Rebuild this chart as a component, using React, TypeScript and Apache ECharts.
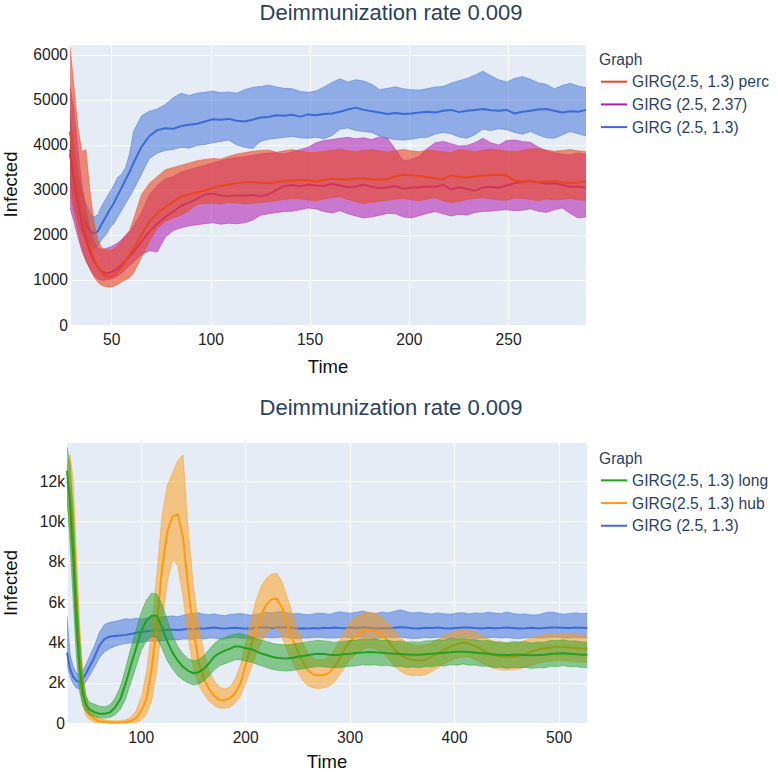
import React, { useEffect, useRef } from 'react';
import * as echarts from 'echarts';

const FONT = '"Liberation Sans", Arial, Helvetica, sans-serif';
const TITLE = 'Deimmunization rate 0.009';

// ---------- Top chart ----------
const TIME_TOP = [29,31,33,35,37,39,41,43,45,47,49,51,53,55,57,59,61,65,69,73,77,81,85,89,93,97,101,105,109,113,117,121,125,129,133,137,141,145,149,153,157,161,165,169,173,177,181,185,189,193,197,201,205,209,213,217,221,225,229,233,237,241,245,249,253,257,261,265,269,273,277,281,285,289];

const TOP_NAMES = ['GIRG(2.5, 1.3) perc', 'GIRG (2.5, 2.37)', 'GIRG (2.5, 1.3)'];

const PERC_MEAN = [4300,3500,2900,2450,2050,1750,1480,1280,1150,1080,1070,1110,1180,1290,1420,1560,1700,2000,2300,2480,2620,2740,2850,2900,2950,2990,3050,3090,3120,3150,3170,3180,3160,3150,3170,3200,3210,3220,3210,3190,3230,3250,3240,3230,3260,3250,3240,3230,3250,3300,3340,3330,3310,3290,3260,3240,3330,3290,3280,3300,3320,3330,3340,3320,3210,3190,3200,3180,3190,3200,3170,3150,3160,3200];
const PERC_UP = [6200,5300,4400,3850,3900,3000,2300,1900,1720,1660,1650,1690,1760,1860,1980,2100,2350,2900,3150,3300,3450,3500,3550,3600,3650,3680,3700,3690,3750,3800,3830,3860,3880,3890,3840,3870,3900,3860,3840,3830,3860,3880,3910,3870,3850,3880,3900,3870,3840,3880,3900,3870,3850,3890,3870,3850,3830,3900,3880,3850,3880,3910,3890,3860,3850,3880,3910,3920,3890,3860,3880,3900,3870,3850];
const PERC_LO = [2900,2500,2100,1700,1450,1250,1080,950,880,850,840,860,900,960,1000,1050,1150,1500,1850,2150,2300,2380,2440,2550,2680,2700,2700,2690,2720,2710,2690,2700,2720,2740,2760,2790,2810,2800,2780,2760,2800,2830,2850,2790,2740,2700,2720,2750,2770,2800,2810,2780,2760,2800,2830,2760,2720,2740,2790,2810,2830,2800,2780,2770,2820,2810,2790,2760,2800,2780,2790,2810,2780,2770];

const G237_MEAN = [3800,3200,2700,2250,1900,1620,1420,1280,1190,1150,1160,1200,1260,1340,1430,1530,1620,1850,2080,2250,2400,2520,2650,2720,2800,2900,2920,2880,2860,2880,2870,2890,2860,2900,3000,3090,3110,3080,3120,3100,3090,3140,3100,3060,3080,3120,3070,3040,3060,3090,3030,3050,3060,3080,3070,3120,3010,3060,3020,2980,3060,3070,3050,3100,3150,3180,3200,3170,3140,3150,3110,3070,3080,3050];
const G237_UP = [5300,4800,3900,3100,2600,2150,1850,1720,1680,1700,1730,1770,1820,1900,2000,2080,2200,2500,2900,3100,3250,3300,3400,3450,3500,3550,3600,3650,3700,3720,3740,3770,3800,3820,3830,3800,3850,3900,3950,4050,4100,4120,4150,4170,4140,4160,4120,4180,4150,3900,3650,3680,3750,3920,4050,4080,4030,3980,3990,4050,4150,4050,4000,4100,4110,4080,4060,3950,3870,3830,3800,3780,3820,3790];
const G237_LO = [2600,2300,1950,1650,1420,1250,1100,1020,990,1000,1010,1040,1090,1150,1230,1320,1400,1560,1650,1620,1950,2100,2160,2200,2230,2250,2270,2240,2260,2250,2270,2330,2440,2470,2500,2520,2530,2560,2600,2580,2520,2490,2540,2470,2420,2380,2400,2440,2480,2470,2400,2380,2430,2480,2520,2470,2420,2460,2440,2500,2520,2530,2550,2560,2540,2550,2580,2530,2500,2560,2600,2480,2380,2400];

const G13_MEAN = [3900,3300,2800,2450,2250,2100,2030,2080,2250,2400,2560,2700,2880,3050,3230,3400,3600,3960,4200,4330,4370,4360,4420,4450,4470,4520,4570,4560,4580,4540,4520,4560,4610,4620,4660,4650,4670,4630,4680,4660,4690,4700,4740,4790,4830,4780,4750,4720,4690,4710,4690,4700,4720,4740,4720,4760,4780,4730,4760,4780,4800,4770,4760,4780,4700,4740,4760,4790,4800,4760,4720,4750,4740,4780];
const G13_UP = [4700,4000,3400,2950,2700,2500,2400,2450,2650,2800,2950,3100,3280,3350,3500,3800,4300,4650,4750,4800,4900,5050,5150,5100,5150,5170,5200,5160,5180,5150,5230,5280,5300,5330,5290,5260,5250,5190,5170,5200,5290,5390,5470,5400,5450,5420,5350,5230,5260,5290,5250,5230,5220,5250,5290,5300,5370,5430,5480,5550,5640,5540,5450,5400,5480,5520,5460,5380,5350,5250,5320,5370,5310,5270];
const G13_LO = [3200,2700,2300,2050,1900,1800,1700,1750,1900,2000,2150,2250,2400,2550,2700,2850,3000,3350,3700,3820,3880,3900,3950,3930,3990,4010,4050,4080,4110,4000,3950,3920,4080,4130,4150,4170,4190,4160,4150,4170,4140,4210,4350,4380,4320,4300,4280,4200,4150,4120,4110,4130,4160,4170,4240,4280,4250,4180,4150,4230,4350,4320,4360,4340,4280,4240,4300,4220,4160,4150,4220,4300,4250,4200];

// ---------- Bottom chart ----------
const TIME_BOT = [29,32,35,38,41,44,47,50,55,60,65,70,75,80,85,90,95,100,105,110,115,120,125,130,135,140,145,150,155,160,165,170,175,180,185,190,195,200,205,210,215,220,225,230,235,240,245,250,255,260,265,270,275,280,285,290,295,300,306,312,318,324,330,336,342,348,354,360,366,372,378,384,390,396,402,408,414,420,426,432,438,444,450,456,462,468,474,480,486,492,498,504,510,516,522,527];

const BOT_NAMES = ['GIRG(2.5, 1.3) long', 'GIRG(2.5, 1.3) hub', 'GIRG (2.5, 1.3)'];

const LONG_MEAN = [12500,10800,8200,5000,2800,1500,950,700,560,470,470,540,780,1200,1950,2850,3700,4550,5100,5330,5330,4750,4050,3500,3100,2800,2600,2480,2530,2680,2980,3300,3480,3600,3700,3810,3800,3720,3680,3560,3460,3380,3300,3250,3220,3210,3250,3300,3330,3380,3420,3450,3430,3400,3380,3400,3430,3450,3480,3510,3530,3520,3500,3470,3450,3430,3410,3390,3400,3420,3450,3470,3490,3520,3540,3550,3530,3500,3470,3440,3410,3390,3380,3390,3400,3380,3370,3380,3400,3430,3460,3470,3450,3420,3400,3390];
const LONG_UP = [13700,12800,10500,7000,4300,2300,1400,1050,950,850,820,900,1250,1800,2700,3700,4600,5500,6100,6450,6400,5900,5100,4350,3800,3450,3200,3100,3150,3350,3650,3950,4150,4250,4350,4420,4450,4380,4300,4200,4120,4050,3980,3920,3900,3880,3920,3960,4000,4050,4080,4110,4080,4050,4010,4040,4070,4100,4130,4190,4150,4180,4100,4110,4050,4080,4020,4040,4010,4080,4090,4140,4120,4200,4180,4210,4150,4140,4080,4100,4030,4040,3990,4050,4030,4040,3980,4030,4020,4100,4090,4140,4070,4080,4030,4030];
const LONG_LO = [11200,8800,6000,3300,1600,900,600,450,330,270,260,290,420,680,1200,2000,2800,3600,4100,4300,4250,3700,3100,2700,2350,2150,2000,1900,1950,2100,2350,2650,2850,2950,3050,3150,3150,3080,3040,2940,2850,2760,2680,2630,2600,2590,2620,2660,2700,2750,2790,2820,2800,2770,2750,2770,2800,2830,2850,2900,2880,2900,2850,2870,2810,2830,2770,2790,2760,2820,2800,2860,2840,2900,2880,2940,2880,2890,2820,2830,2760,2780,2730,2770,2750,2770,2720,2760,2750,2820,2810,2860,2800,2810,2760,2760];

const HUB_MEAN = [12000,11500,9500,6200,3300,1700,850,450,220,100,60,45,40,45,60,110,250,600,1200,2700,4900,7700,9500,10250,10350,9200,6700,4600,3050,2200,1700,1350,1150,1140,1240,1500,1980,2900,3800,4700,5400,5900,6150,6180,5700,4850,4150,3550,3000,2600,2420,2380,2390,2500,2800,3200,3700,4050,4370,4560,4620,4580,4420,4080,3700,3400,3200,3130,3110,3150,3300,3470,3650,3800,3920,3990,3950,3820,3650,3500,3380,3300,3290,3300,3350,3450,3560,3660,3720,3760,3790,3790,3760,3720,3700,3690];
const HUB_UP = [12800,13300,12000,8500,5000,2600,1400,800,450,250,170,140,120,130,170,300,600,1300,2500,4600,7400,10300,11800,12400,13000,13300,9600,6800,4900,3500,2600,2100,1800,1700,1800,2200,2900,4000,5100,6100,6800,7200,7400,7420,7000,6200,5400,4650,3950,3450,3200,3130,3150,3300,3650,4100,4600,5000,5300,5450,5500,5450,5300,4950,4600,4250,4000,3880,3850,3880,4000,4150,4330,4480,4580,4640,4620,4500,4330,4180,4060,3980,3960,3970,4020,4120,4230,4330,4390,4430,4450,4450,4420,4390,4370,4350];
const HUB_LO = [11000,9500,7000,4200,2000,900,400,200,60,20,10,5,5,5,10,20,50,150,450,1100,2600,5000,7000,8100,7800,6300,4200,2700,1900,1450,1100,880,760,740,800,1000,1350,2000,2700,3400,4000,4500,4750,4700,4250,3550,3000,2500,2100,1850,1750,1720,1760,1850,2050,2400,2800,3150,3450,3650,3750,3700,3550,3230,2850,2580,2420,2370,2360,2400,2560,2750,2950,3100,3230,3300,3280,3150,2980,2830,2720,2650,2640,2650,2700,2780,2880,2980,3040,3080,3120,3120,3090,3050,3030,3020];

const B13_MEAN = [3500,2700,2300,2100,2050,2200,2450,2750,3250,3850,4180,4300,4330,4350,4380,4420,4480,4530,4560,4580,4600,4620,4640,4630,4620,4650,4680,4660,4700,4690,4720,4750,4710,4690,4720,4730,4710,4690,4700,4730,4750,4740,4720,4750,4740,4760,4720,4700,4710,4690,4720,4700,4730,4710,4750,4720,4710,4740,4720,4760,4730,4700,4720,4710,4730,4760,4740,4710,4700,4730,4720,4740,4710,4700,4720,4740,4750,4720,4700,4730,4710,4720,4740,4720,4700,4710,4730,4700,4720,4750,4740,4730,4720,4740,4730,4720];
const B13_UP = [5300,3400,2800,2500,2400,2600,2900,3250,3800,4500,4900,5000,5050,5100,5180,5150,5200,5170,5200,5230,5250,5280,5300,5320,5280,5350,5420,5450,5480,5400,5380,5420,5360,5330,5390,5420,5440,5400,5350,5380,5450,5500,5470,5520,5540,5480,5420,5450,5400,5380,5420,5460,5440,5400,5470,5520,5490,5450,5500,5560,5480,5430,5510,5470,5540,5620,5530,5470,5500,5450,5420,5470,5430,5400,5460,5480,5420,5470,5440,5500,5460,5430,5510,5440,5400,5420,5360,5380,5470,5510,5460,5400,5440,5470,5430,5450];
const B13_LO = [2900,2300,1950,1750,1700,1850,2050,2300,2750,3250,3550,3700,3820,3900,3950,3980,3990,4000,4050,4080,4050,4100,4120,4150,4130,4170,4180,4150,4200,4180,4230,4220,4180,4190,4230,4260,4220,4210,4180,4220,4240,4260,4230,4250,4270,4250,4200,4190,4220,4230,4250,4260,4240,4220,4230,4250,4270,4230,4250,4270,4220,4200,4240,4260,4250,4280,4230,4200,4210,4250,4230,4260,4220,4190,4250,4270,4230,4200,4220,4240,4260,4230,4250,4210,4200,4230,4250,4220,4240,4260,4270,4240,4230,4250,4230,4240];

const TOP_Y_MAX = 6244;
const BOT_Y_MAX = 13900;

const RED = '#E9481F';
const MAGENTA = '#B01BAE';
const BLUE = '#3B6BD5';
const GREEN = '#23A023';
const ORANGE = '#FF9A0E';

function rgba(hex: string, a: number) {
  const n = parseInt(hex.slice(1), 16);
  return `rgba(${(n >> 16) & 255},${(n >> 8) & 255},${n & 255},${a})`;
}

function bandSeries(t: number[], lo: number[], up: number[], color: string, alpha: number, gi: number, z: number) {
  return {
    type: 'custom',
    xAxisIndex: gi,
    yAxisIndex: gi,
    z,
    silent: true,
    clip: true,
    data: t.map((x, i) => [x, lo[i], up[i]]),
    encode: { x: 0, y: [1, 2] },
    renderItem: (params: any, api: any) => {
      if (params.dataIndexInside !== 0) return null;
      const n = params.dataInsideLength;
      const upper: number[][] = [];
      const lower: number[][] = [];
      for (let i = 0; i < n; i++) {
        const x = api.value(0, i);
        upper.push(api.coord([x, api.value(2, i)]));
        lower.push(api.coord([x, api.value(1, i)]));
      }
      return {
        type: 'group',
        children: [
          { type: 'polygon', shape: { points: upper.concat(lower.slice().reverse()) }, style: { fill: rgba(color, alpha), stroke: null } },
          { type: 'polyline', shape: { points: upper }, style: { fill: null, stroke: rgba(color, 0.65), lineWidth: 0.7 } },
          { type: 'polyline', shape: { points: lower }, style: { fill: null, stroke: rgba(color, 0.65), lineWidth: 0.7 } },
        ],
      };
    },
  };
}

function lineSeries(name: string, t: number[], v: number[], color: string, gi: number, z: number) {
  return {
    type: 'line',
    name,
    xAxisIndex: gi,
    yAxisIndex: gi,
    z,
    silent: true,
    symbol: 'none',
    showSymbol: false,
    color,
    lineStyle: { width: 2, color },
    data: t.map((x, i) => [x, v[i]]),
  };
}

function textEl(text: string, x: number, y: number, size: number, color: string, align: string, rotation = 0) {
  return {
    type: 'text',
    x,
    y,
    rotation,
    silent: true,
    style: {
      text,
      x: 0,
      y: 0,
      fill: color,
      fontSize: size,
      fontFamily: FONT,
      align,
      textAlign: align,
      verticalAlign: 'middle',
      textVerticalAlign: 'middle',
    },
  };
}

const axisLabelBase = { fontSize: 15.6, color: '#222', fontFamily: FONT };
const splitLine = { show: true, lineStyle: { color: '#ffffff', width: 1 } };

function legendCfg(names: string[], top: number) {
  return {
    data: names,
    orient: 'vertical',
    left: 601,
    top,
    padding: 0,
    itemGap: 0,
    itemWidth: 26,
    itemHeight: 2,
    icon: 'rect',
    itemStyle: { borderWidth: 0 },
    selectedMode: false,
    textStyle: { fontSize: 15.6, lineHeight: 22.7, color: '#2a3f5f', fontFamily: FONT },
  };
}

export default function App() {
  const ref = useRef<HTMLDivElement>(null);
  useEffect(() => {
    if (!ref.current) return;
    const chart = echarts.init(ref.current, undefined, { renderer: 'svg' });
    const option: any = {
      animation: false,
      backgroundColor: '#ffffff',
      textStyle: { fontFamily: FONT },
      grid: [
        { left: 70, top: 44, width: 516, height: 281, show: true, backgroundColor: '#E5ECF6', borderWidth: 0 },
        { left: 67, top: 442.7, width: 520.3, height: 280.6, show: true, backgroundColor: '#E5ECF6', borderWidth: 0 },
      ],
      xAxis: [
        {
          type: 'value', gridIndex: 0, min: 29, max: 289, splitNumber: 5,
          axisLine: { show: false }, axisTick: { show: false }, splitLine,
          axisLabel: { ...axisLabelBase, margin: 6, showMinLabel: false, showMaxLabel: false, formatter: (v: number) => String(v) },
        },
        {
          type: 'value', gridIndex: 1, min: 29, max: 527, splitNumber: 5,
          axisLine: { show: false }, axisTick: { show: false }, splitLine,
          axisLabel: { ...axisLabelBase, margin: 6, showMinLabel: false, showMaxLabel: false, formatter: (v: number) => String(v) },
        },
      ],
      yAxis: [
        {
          type: 'value', gridIndex: 0, min: 0, max: TOP_Y_MAX, interval: 1000,
          axisLine: { show: false }, axisTick: { show: false }, splitLine,
          axisLabel: { ...axisLabelBase, margin: 2, showMaxLabel: false, formatter: (v: number) => String(v) },
        },
        {
          type: 'value', gridIndex: 1, min: 0, max: BOT_Y_MAX, interval: 2000,
          axisLine: { show: false }, axisTick: { show: false }, splitLine,
          axisLabel: {
            ...axisLabelBase, margin: 2, showMaxLabel: false,
            formatter: (v: number) => (v === 0 ? '0' : v / 1000 + 'k'),
          },
        },
      ],
      legend: [legendCfg(TOP_NAMES, 70.35), legendCfg(BOT_NAMES, 469)],
      graphic: [
        textEl(TITLE, 391, 12, 22, '#2a3f5f', 'center'),
        textEl(TITLE, 391, 407.5, 22, '#2a3f5f', 'center'),
        textEl('Graph', 599, 59.5, 15.6, '#2a3f5f', 'left'),
        textEl('Graph', 599, 458, 15.6, '#2a3f5f', 'left'),
        textEl('Time', 328, 366, 18.5, '#111', 'center'),
        textEl('Time', 327, 761.5, 18.5, '#111', 'center'),
        textEl('Infected', 10.5, 184.5, 18.5, '#111', 'center', Math.PI / 2),
        textEl('Infected', 10.5, 583, 18.5, '#111', 'center', Math.PI / 2),
      ],
      series: [
        bandSeries(TIME_TOP, G13_LO, G13_UP, BLUE, 0.5, 0, 2),
        lineSeries(TOP_NAMES[2], TIME_TOP, G13_MEAN, BLUE, 0, 3),
        bandSeries(TIME_TOP, G237_LO, G237_UP, MAGENTA, 0.55, 0, 4),
        lineSeries(TOP_NAMES[1], TIME_TOP, G237_MEAN, MAGENTA, 0, 5),
        bandSeries(TIME_TOP, PERC_LO, PERC_UP, RED, 0.6, 0, 6),
        lineSeries(TOP_NAMES[0], TIME_TOP, PERC_MEAN, RED, 0, 7),

        bandSeries(TIME_BOT, B13_LO, B13_UP, BLUE, 0.5, 1, 2),
        lineSeries(BOT_NAMES[2], TIME_BOT, B13_MEAN, BLUE, 1, 3),
        bandSeries(TIME_BOT, HUB_LO, HUB_UP, ORANGE, 0.5, 1, 4),
        lineSeries(BOT_NAMES[1], TIME_BOT, HUB_MEAN, ORANGE, 1, 5),
        bandSeries(TIME_BOT, LONG_LO, LONG_UP, GREEN, 0.5, 1, 6),
        lineSeries(BOT_NAMES[0], TIME_BOT, LONG_MEAN, GREEN, 1, 7),
      ],
    };
    chart.setOption(option);
    return () => chart.dispose();
  }, []);
  return (
    <div
      ref={ref}
      style={{ position: 'fixed', left: 0, top: 0, width: 778, height: 772, background: '#fff' }}
    />
  );
}
